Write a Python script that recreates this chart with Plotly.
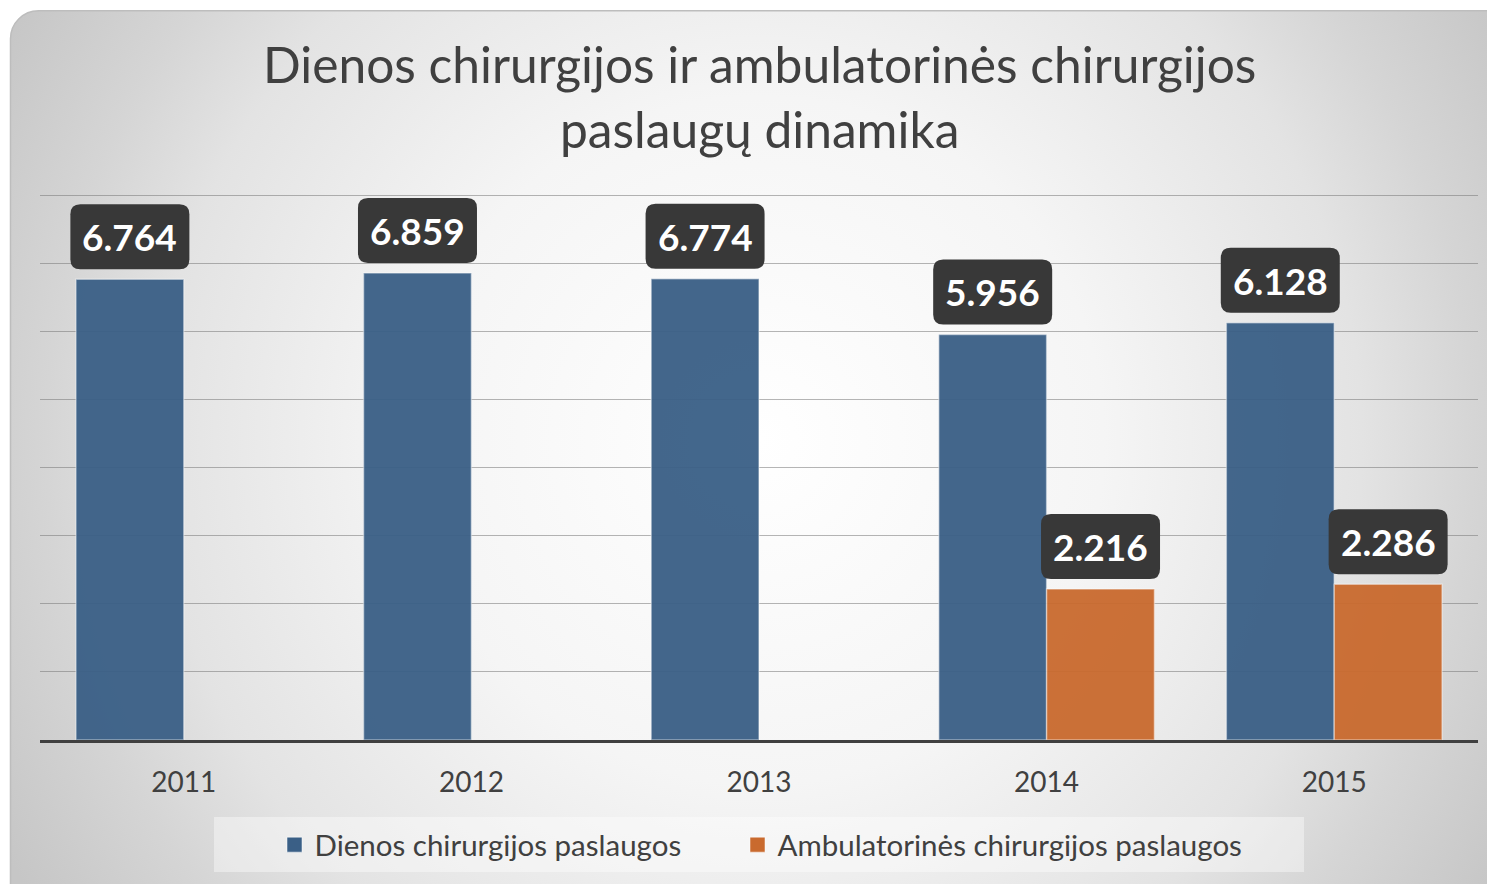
import base64
import plotly.graph_objects as go

years = ["2011", "2012", "2013", "2014", "2015"]
dienos = [6.764, 6.859, 6.774, 5.956, 6.128]
ambulatorines = [None, None, None, 2.216, 2.286]
series_names = ["Dienos chirurgijos paslaugos", "Ambulatorinės chirurgijos paslaugos"]
title_lines = ["Dienos chirurgijos ir ambulatorinės chirurgijos", "paslaugų dinamika"]

W, H = 1495, 884
Y_TOP = 8            # top gridline value
Y_MAX = 8.12         # axis range upper end (a bit above top gridline so it is drawn)
TOP_PX, BASE_PX = 187, 732   # pixel rows of top gridline and baseline
ML, MR = 32, 25
MB = H - BASE_PX
MT = BASE_PX - (BASE_PX - TOP_PX) * Y_MAX / Y_TOP
PW, PH = W - ML - MR, H - MT - MB

BLUE = "#3A5F86"
ORANGE = "#C96A2E"
TEXT = "#404040"
FONT = "Lato"
BAR_W = 0.375


def px_x(p):
    return (p - ML) / PW


def px_y(p):
    return (H - MB - p) / PH


# background gradient as svg image
svg = f'''<svg xmlns="http://www.w3.org/2000/svg" width="{W}" height="{H}" viewBox="0 0 {W} {H}">
<defs><radialGradient id="g" cx="752" cy="432" r="860" gradientUnits="userSpaceOnUse">
<stop offset="0" stop-color="#ffffff"/><stop offset="0.4" stop-color="#f5f5f5"/>
<stop offset="0.7" stop-color="#e3e3e3"/><stop offset="0.83" stop-color="#d5d5d5"/>
<stop offset="1" stop-color="#c6c6c6"/></radialGradient></defs>
<rect x="0" y="0" width="{W}" height="{H}" fill="#ffffff"/>
<rect x="2.5" y="2.5" width="{W + 40}" height="{H + 40}" rx="28" ry="28" fill="url(#g)" stroke="#bdbdbd" stroke-width="1.5"/>
</svg>'''
src = "data:image/svg+xml;base64," + base64.b64encode(svg.encode()).decode()

xs = list(range(len(years)))
fig = go.Figure()
fig.add_trace(go.Bar(x=xs, y=dienos, name=series_names[0], width=BAR_W, offset=-BAR_W, showlegend=False,
                     marker=dict(color=BLUE, opacity=0.95, line=dict(color="rgba(255,255,255,0.45)", width=1.5))))
fig.add_trace(go.Bar(x=xs, y=ambulatorines, name=series_names[1], width=BAR_W, offset=0, showlegend=False,
                     marker=dict(color=ORANGE, opacity=0.95, line=dict(color="rgba(255,255,255,0.45)", width=1.5))))
# legend entries with larger square swatches, each in its own legend for exact placement
for nm, col, lg in zip(series_names, (BLUE, ORANGE), ("legend", "legend2")):
    fig.add_trace(go.Scatter(x=[None], y=[None], mode="markers", name=nm, legend=lg,
                             marker=dict(symbol="square", size=15, color=col,
                                         line=dict(color="rgba(255,255,255,0.5)", width=1))))

# rounded label boxes
bw, bh, gap, r = 119, 65, 10, 10
hw = bw / 2
path = (f"M {-hw + r},{gap} L {hw - r},{gap} Q {hw},{gap} {hw},{gap + r} "
        f"L {hw},{gap + bh - r} Q {hw},{gap + bh} {hw - r},{gap + bh} "
        f"L {-hw + r},{gap + bh} Q {-hw},{gap + bh} {-hw},{gap + bh - r} "
        f"L {-hw},{gap + r} Q {-hw},{gap} {-hw + r},{gap} Z")
shapes = []
annotations = []
for vals, off in ((dienos, -BAR_W / 2), (ambulatorines, BAR_W / 2)):
    for i, v in enumerate(vals):
        if v is None:
            continue
        shapes.append(dict(type="path", xref="x", yref="y", xsizemode="pixel", ysizemode="pixel",
                           xanchor=i + off, yanchor=v, path=path,
                           fillcolor="#383838", line=dict(width=0), layer="above"))
        annotations.append(dict(x=i + off, y=v, xref="x", yref="y", text=f"<b>{v:.3f}</b>",
                                showarrow=False, yanchor="middle", yshift=gap + bh / 2,
                                font=dict(family=FONT, size=37, color="white")))

# title lines
for txt, yc in zip(title_lines, (56, 121)):
    annotations.append(dict(x=0.5, y=px_y(yc), xref="paper", yref="paper", text=txt, showarrow=False,
                            xanchor="center", yanchor="middle",
                            font=dict(family=FONT, size=49.7, color=TEXT)))

# legend background box
shapes.append(dict(type="rect", xref="paper", yref="paper",
                   x0=px_x(206), x1=px_x(1296), y0=px_y(864), y1=px_y(809),
                   fillcolor="rgba(255,255,255,0.4)", line=dict(width=0), layer="below"))

leg_common = dict(orientation="h", xanchor="left", y=px_y(837), yanchor="middle",
                  bgcolor="rgba(0,0,0,0)", font=dict(family=FONT, size=29.5, color=TEXT))

fig.update_layout(
    width=W, height=H,
    margin=dict(l=ML, r=MR, t=MT, b=MB),
    paper_bgcolor="white", plot_bgcolor="rgba(0,0,0,0)",
    images=[dict(source=src, xref="paper", yref="paper", x=-ML / PW, y=1 + MT / PH,
                 sizex=W / PW, sizey=H / PH, sizing="stretch", xanchor="left", yanchor="top",
                 layer="below")],
    xaxis=dict(range=[-0.5, 4.5], tickvals=xs, ticktext=years, showgrid=False, zeroline=False,
               showline=True, linecolor=TEXT, linewidth=3, ticks="", ticklabelstandoff=15,
               tickfont=dict(family=FONT, size=28, color=TEXT), fixedrange=True),
    yaxis=dict(range=[0, Y_MAX], tickvals=list(range(0, Y_TOP + 1)), showticklabels=False, showgrid=True,
               gridcolor="rgba(120,120,120,0.55)", gridwidth=1.3, zeroline=False, fixedrange=True),
    showlegend=True,
    legend=dict(x=px_x(286.5 - 20), **leg_common),
    legend2=dict(x=px_x(749.5 - 20), **leg_common),
    shapes=shapes, annotations=annotations,
    bargap=0.25, bargroupgap=0,
)

fig.write_html("out.html")
